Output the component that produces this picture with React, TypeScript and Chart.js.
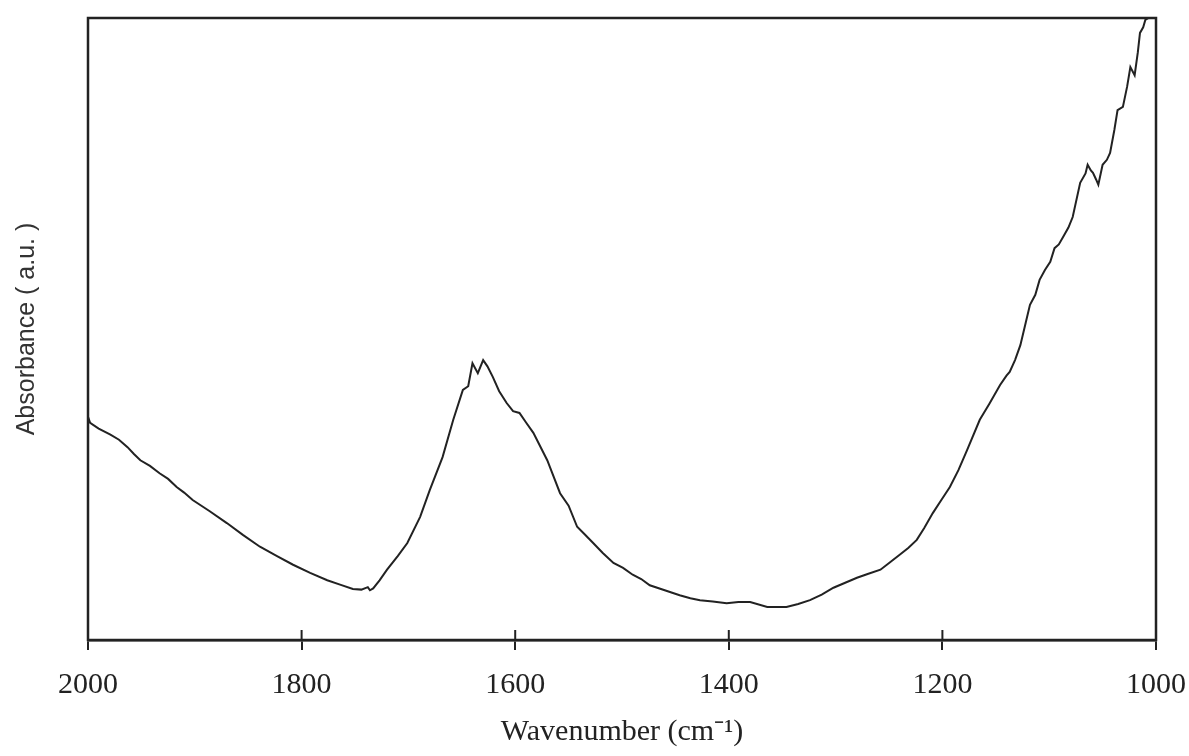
import React, { useEffect, useRef } from "react";
import { Chart, registerables } from "chart.js";

Chart.register(...registerables);

// Wavenumber (cm^-1)
const wavenumbers: number[] = [
  2000, 1998, 1990, 1979, 1971, 1963, 1957, 1951, 1942, 1933,
  1925, 1917, 1910, 1902, 1886, 1870, 1855, 1839, 1823, 1808,
  1792, 1776, 1764, 1752, 1744, 1738, 1736, 1733, 1727, 1720,
  1710, 1701, 1689, 1680, 1668, 1658, 1649, 1644, 1640, 1635,
  1630, 1626, 1621, 1615, 1608, 1602, 1596, 1590, 1583, 1570,
  1558, 1550, 1542, 1535, 1527, 1518, 1508, 1499, 1490, 1482,
  1474, 1460, 1446, 1436, 1427, 1415, 1402, 1391, 1380, 1364,
  1346, 1335, 1324, 1313, 1302, 1291, 1280, 1270, 1258, 1249,
  1240, 1232, 1224, 1217, 1209, 1201, 1193, 1185, 1177, 1165,
  1156, 1146, 1140, 1137, 1132, 1127, 1122, 1118, 1113, 1109,
  1104, 1099, 1095, 1091, 1087, 1082, 1078, 1071, 1066, 1064,
  1061, 1059, 1056, 1054, 1050, 1046, 1043, 1039, 1036, 1031,
  1027, 1024, 1020, 1017, 1015, 1012, 1010, 1007,
];

// Absorbance (arbitrary units, 0 = axis, 100 = top of frame)
const absorbance: number[] = [
  35.9, 34.9, 34.0, 33.0, 32.2, 31.0, 29.9, 28.9, 28.0, 26.8,
  25.9, 24.6, 23.7, 22.5, 20.7, 18.8, 16.9, 15.0, 13.5, 12.1,
  10.8, 9.6, 8.9, 8.2, 8.1, 8.5, 8.0, 8.3, 9.6, 11.3,
  13.5, 15.6, 19.8, 24.1, 29.4, 35.4, 40.2, 40.8, 44.5, 42.9,
  45.0, 44.0, 42.3, 40.0, 38.1, 36.8, 36.5, 35.0, 33.3, 28.9,
  23.6, 21.6, 18.2, 17.0, 15.6, 14.0, 12.4, 11.6, 10.5, 9.8,
  8.8, 8.0, 7.2, 6.7, 6.4, 6.2, 5.9, 6.1, 6.1, 5.3,
  5.3, 5.8, 6.4, 7.3, 8.4, 9.2, 10.0, 10.6, 11.3, 12.5,
  13.7, 14.8, 16.1, 18.0, 20.4, 22.5, 24.6, 27.3, 30.5, 35.4,
  38.0, 41.0, 42.5, 43.1, 45.0, 47.4, 51.0, 53.9, 55.5, 57.9,
  59.5, 60.8, 63.0, 63.6, 64.8, 66.3, 68.0, 73.5, 75.0, 76.4,
  75.5, 75.1, 74.0, 73.2, 76.4, 77.2, 78.3, 82.0, 85.2, 85.7,
  89.0, 92.1, 90.8, 94.5, 97.6, 98.5, 99.7, 100,
];

const xTicks: number[] = [2000, 1800, 1600, 1400, 1200, 1000];
const xTitle = "Wavenumber (cm\u207B\u00B9)";
const yTitle = "Absorbance ( a.u. )";

const INK = "#222222";

const framePlugin = {
  id: "frame",
  afterDraw(chart: any) {
    const { ctx, chartArea } = chart;
    const xs = chart.scales.x;
    ctx.save();
    ctx.strokeStyle = INK;
    ctx.lineWidth = 2.5;
    ctx.strokeRect(
      chartArea.left,
      chartArea.top,
      chartArea.right - chartArea.left,
      chartArea.bottom - chartArea.top
    );
    // inward part of the x ticks
    ctx.lineWidth = 2;
    xs.ticks.forEach((_t: any, i: number) => {
      const px = xs.getPixelForTick(i);
      ctx.beginPath();
      ctx.moveTo(px, chartArea.bottom);
      ctx.lineTo(px, chartArea.bottom - 10);
      ctx.stroke();
    });
    ctx.restore();
  },
};

export default function App() {
  const ref = useRef<HTMLCanvasElement | null>(null);

  useEffect(() => {
    document.body.style.margin = "0";
    if (!ref.current) return;
    const chart = new Chart(ref.current, {
      type: "line",
      data: {
        datasets: [
          {
            data: wavenumbers.map((w, i) => ({ x: w, y: absorbance[i] })),
            borderColor: INK,
            borderWidth: 2,
            pointRadius: 0,
            tension: 0,
            fill: false,
          },
        ],
      },
      options: {
        animation: false,
        responsive: false,
        maintainAspectRatio: false,
        layout: { padding: { top: 18, right: 33, bottom: 0, left: 0 } },
        plugins: {
          legend: { display: false },
          tooltip: { enabled: false },
        },
        scales: {
          x: {
            type: "linear",
            reverse: true,
            min: 1000,
            max: 2000,
            afterBuildTicks: (scale: any) => {
              scale.ticks = xTicks.map((v) => ({ value: v }));
            },
            afterFit: (scale: any) => {
              scale.height = 116;
              scale.paddingLeft = 0;
              scale.paddingRight = 0;
            },
            ticks: {
              color: INK,
              font: { family: "'Liberation Serif', serif", size: 30 },
              padding: 17,
              maxRotation: 0,
              callback: (v: any) => String(v),
            },
            grid: {
              display: true,
              drawOnChartArea: false,
              drawTicks: true,
              tickLength: 10,
              color: INK,
              lineWidth: 2,
            },
            border: { display: true, color: INK, width: 2.5 },
            title: {
              display: true,
              text: xTitle,
              color: INK,
              font: { family: "'Liberation Serif', serif", size: 30, lineHeight: 1 },
              padding: { top: 9, bottom: 9 },
            },
          },
          y: {
            type: "linear",
            min: 0,
            max: 100,
            afterFit: (scale: any) => {
              scale.width = 88;
            },
            ticks: { display: false },
            grid: { display: false, drawTicks: false },
            border: { display: false },
            title: {
              display: true,
              text: yTitle,
              color: "#333333",
              font: { family: "'Liberation Sans', Arial, sans-serif", size: 25 },
              padding: { top: 12, bottom: 46 },
            },
          },
        },
      },
      plugins: [framePlugin],
    });
    return () => chart.destroy();
  }, []);

  return (
    <div style={{ position: "fixed", left: 0, top: 0, width: 1189, height: 756, background: "#fff" }}>
      <canvas ref={ref} width={1189} height={756} style={{ width: 1189, height: 756 }} />
    </div>
  );
}
